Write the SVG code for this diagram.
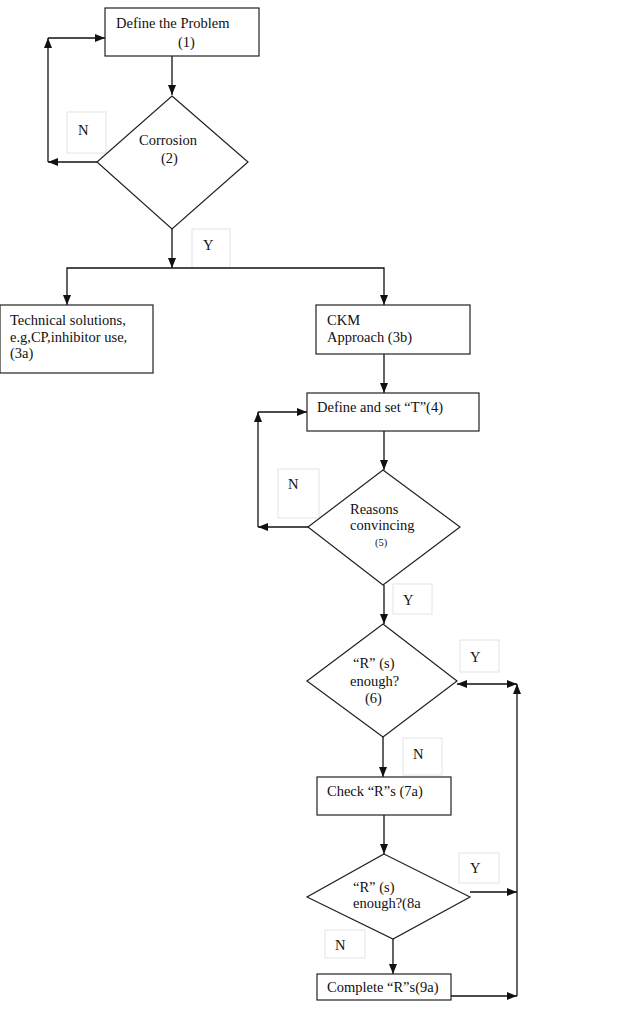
<svg xmlns="http://www.w3.org/2000/svg" width="627" height="1011" viewBox="0 0 627 1011">
<style>
.b{fill:#fff;stroke:#222;stroke-width:1.2}
.lb{fill:#fff;stroke:#e4e4e4;stroke-width:1}
.c{fill:none;stroke:#111;stroke-width:1.3}
text{font-family:"Liberation Serif","Times New Roman",serif;font-size:14.5px;fill:#111}
.s{font-size:10.5px}
</style>
<defs>
<marker id="a" viewBox="0 0 10 8" refX="10" refY="4" markerWidth="10" markerHeight="8" markerUnits="userSpaceOnUse" orient="auto-start-reverse">
<path d="M0,0 L10,4 L0,8 Z" fill="#111"/>
</marker>
</defs>
<rect width="627" height="1011" fill="#fff"/>
<g id="labels">
<rect class="lb" x="67" y="112" width="39" height="41"/>
<text x="78" y="135">N</text>
<rect class="lb" x="192" y="229" width="38" height="39"/>
<text x="203" y="250">Y</text>
<rect class="lb" x="278" y="469" width="41" height="49"/>
<text x="288" y="489">N</text>
<rect class="lb" x="393" y="584" width="39" height="30"/>
<text x="403" y="605">Y</text>
<rect class="lb" x="460" y="640" width="39" height="32"/>
<text x="470" y="662">Y</text>
<rect class="lb" x="403" y="738" width="39" height="37"/>
<text x="413" y="759">N</text>
<rect class="lb" x="459" y="853" width="40" height="30"/>
<text x="470" y="873">Y</text>
<rect class="lb" x="325" y="930" width="40" height="28"/>
<text x="335" y="950">N</text>
</g>
<g id="connectors">
<path class="c" d="M172,56 V95" marker-end="url(#a)"/>
<path class="c" d="M97,162 H48" marker-end="url(#a)"/>
<path class="c" d="M48,162 V38" marker-end="url(#a)"/>
<path class="c" d="M48,38 H105" marker-end="url(#a)"/>
<path class="c" d="M172,229 V268" marker-end="url(#a)"/>
<path class="c" d="M172,268 H67 V305" marker-end="url(#a)"/>
<path class="c" d="M172,268 H384 V305" marker-end="url(#a)"/>
<path class="c" d="M384,354 V393" marker-end="url(#a)"/>
<path class="c" d="M384,431 V470" marker-end="url(#a)"/>
<path class="c" d="M308,527 H258" marker-end="url(#a)"/>
<path class="c" d="M258,527 V412" marker-end="url(#a)"/>
<path class="c" d="M258,412 H307" marker-end="url(#a)"/>
<path class="c" d="M384,585 V624" marker-end="url(#a)"/>
<path class="c" d="M457,684 H517" marker-start="url(#a)" marker-end="url(#a)"/>
<path class="c" d="M517,996 V684" marker-end="url(#a)"/>
<path class="c" d="M383,737 V777" marker-end="url(#a)"/>
<path class="c" d="M384,815 V854" marker-end="url(#a)"/>
<path class="c" d="M470,892 H517" marker-end="url(#a)"/>
<path class="c" d="M393,939 V974" marker-end="url(#a)"/>
<path class="c" d="M451,996 H517" marker-end="url(#a)"/>
</g>
<g id="n1">
<rect class="b" x="105" y="8" width="154" height="48"/>
<text x="116" y="28">Define the Problem</text>
<text x="178" y="47">(1)</text>
</g>
<g id="n2">
<polygon class="b" points="172,96 248,162 172,229 97,162"/>
<text x="139" y="145">Corrosion</text>
<text x="161" y="163">(2)</text>
</g>
<g id="n3a">
<rect class="b" x="0" y="305" width="153" height="68"/>
<text x="10" y="325">Technical solutions,</text>
<text x="10" y="342">e.g,CP,inhibitor use,</text>
<text x="10" y="358">(3a)</text>
</g>
<g id="n3b">
<rect class="b" x="316" y="305" width="154" height="49"/>
<text x="327" y="325">CKM</text>
<text x="327" y="342">Approach (3b)</text>
</g>
<g id="n4">
<rect class="b" x="307" y="393" width="172" height="38"/>
<text x="317" y="412">Define and set “T”(4)</text>
</g>
<g id="n5">
<polygon class="b" points="383,470 460,527 383,585 308,527"/>
<text x="350" y="514">Reasons</text>
<text x="350" y="530">convincing</text>
<text class="s" x="375" y="546">(5)</text>
</g>
<g id="n6">
<polygon class="b" points="383,624 457,681 383,737 307,681"/>
<text x="353" y="668">“R” (s)</text>
<text x="350" y="686">enough?</text>
<text x="365" y="703">(6)</text>
</g>
<g id="n7a">
<rect class="b" x="317" y="777" width="134" height="38"/>
<text x="327" y="796">Check “R”s (7a)</text>
</g>
<g id="n8a">
<polygon class="b" points="384,854 470,897 393,939 307,897"/>
<text x="353" y="892">“R” (s)</text>
<text x="353" y="908">enough?(8a</text>
</g>
<g id="n9a">
<rect class="b" x="317" y="974" width="134" height="26"/>
<text x="327" y="992">Complete “R”s(9a)</text>
</g>
</svg>
